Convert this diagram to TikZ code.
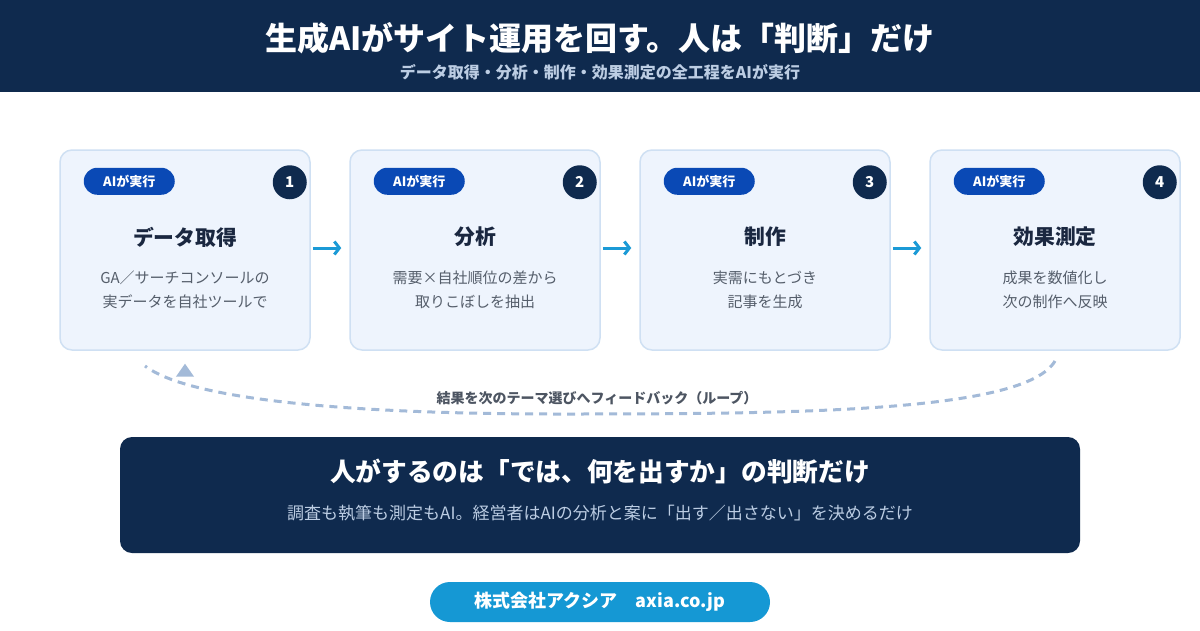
\documentclass[tikz,border=0pt]{standalone}
\usepackage{fontspec}
\setmainfont{Noto Sans CJK JP}
\usetikzlibrary{arrows.meta,calc,shapes.geometric}
\definecolor{navy}{HTML}{0F2A4E}
\definecolor{cardfill}{HTML}{EEF4FD}
\definecolor{cardline}{HTML}{CFE0F3}
\definecolor{badgeblue}{HTML}{0A49B5}
\definecolor{flowblue}{HTML}{1B9AD6}
\definecolor{loopblue}{HTML}{A3BAD8}
\definecolor{labelgray}{HTML}{4D5562}
\definecolor{descgray}{HTML}{555E6B}
\definecolor{titleink}{HTML}{1A2740}
\definecolor{subblue}{HTML}{BCCDE3}
\definecolor{footblue}{HTML}{1598D4}
\tikzset{
  card/.style={draw=cardline, line width=1.5pt, fill=cardfill, rounded corners=12pt, minimum width=250pt, minimum height=200pt, inner sep=0pt},
  badge/.style={fill=badgeblue, rounded corners=13.5pt, minimum width=91pt, minimum height=27pt, inner sep=0pt, text=white, font=\fontsize{13}{15}\selectfont\bfseries},
  numdot/.style={circle, fill=navy, minimum size=34pt, inner sep=0pt, text=white, font=\fontsize{15}{17}\selectfont\bfseries},
  cardtitle/.style={text=titleink, font=\fontsize{20.8}{24}\selectfont\bfseries, inner sep=0pt},
  carddesc/.style={text=descgray, font=\fontsize{15}{24}\selectfont, align=center, inner sep=0pt},
  flow/.style={draw=flowblue, line width=3pt, -{Straight Barb[length=5pt,width=13pt]}},
  loop/.style={draw=loopblue, line width=3pt, dash pattern=on 8pt off 6pt},
}
\begin{document}
\begin{tikzpicture}[x=1pt,y=1pt]
\useasboundingbox (0,0) rectangle (1200,-630);
\fill[white] (0,0) rectangle (1200,-630);
% header
\fill[navy] (0,0) rectangle (1200,-92);
\node[text=white, font=\fontsize{32}{36}\selectfont\bfseries, inner sep=0pt] (title) at (600,-38) {生成AIがサイト運用を回す。人は「判断」だけ};
\node[text=subblue, font=\fontsize{16}{18}\selectfont\bfseries, inner sep=0pt] (subtitle) at (600,-72) {データ取得・分析・制作・効果測定の全工程をAIが実行};
% cards
\foreach \i/\cx/\t/\da/\db in {1/185/データ取得/GA／サーチコンソールの/実データを自社ツールで,
  2/475/分析/需要×自社順位の差から/取りこぼしを抽出,
  3/765/制作/実需にもとづき/記事を生成,
  4/1055/効果測定/成果を数値化し/次の制作へ反映}{
  \node[card] (c\i) at (\cx,-250) {};
  \node[badge] (b\i) at ($(c\i.north west)+(70,-32)$) {AIが実行};
  \node[numdot] (n\i) at ($(c\i.north east)+(-21,-33)$) {\i};
  \node[cardtitle] (t\i) at (\cx,-237) {\t};
  \node[carddesc] (d\i) at (\cx,-290) {\da\\\db};
}
\draw[flow] ([xshift=2pt,yshift=2pt]c1.east) -- ([xshift=-8pt,yshift=2pt]c2.west);
\draw[flow] ([xshift=2pt,yshift=2pt]c2.east) -- ([xshift=-8pt,yshift=2pt]c3.west);
\draw[flow] ([xshift=2pt,yshift=2pt]c3.east) -- ([xshift=-8pt,yshift=2pt]c4.west);
% loop
\coordinate (ls) at (1055,-361);
\coordinate (lm) at (560,-414);
\coordinate (le) at (145,-366);
\draw[loop] (ls) .. controls (1025,-412) and (800,-414) .. (lm) .. controls (350,-414) and (190,-400) .. (le);
\node[isosceles triangle, isosceles triangle apex angle=70, shape border rotate=90, fill=loopblue, minimum height=13pt, minimum width=14pt, inner sep=0pt] (tip) at (185,-372) {};
\node[text=labelgray, font=\fontsize{14}{16}\selectfont\bfseries, inner sep=0pt] (looplabel) at (597,-398) {結果を次のテーマ選びへフィードバック（ループ）};
% bottom box
\node[fill=navy, rounded corners=12pt, minimum width=960pt, minimum height=116pt, inner sep=0pt] (human) at (600,-495) {};
\node[text=white, font=\fontsize{25.7}{28}\selectfont\bfseries, inner sep=0pt] (htitle) at (600,-471) {人がするのは「では、何を出すか」の判断だけ};
\node[text=subblue, font=\fontsize{17}{20}\selectfont, inner sep=0pt] (hsub) at (600,-513) {調査も執筆も測定もAI。経営者はAIの分析と案に「出す／出さない」を決めるだけ};
% footer
\node[fill=footblue, rounded corners=20pt, minimum width=340pt, minimum height=40pt, inner sep=0pt, text=white, font=\fontsize{18}{20}\selectfont\bfseries] (foot) at (600,-602) {株式会社アクシア　axia.co.jp};
\end{tikzpicture}
\end{document}
